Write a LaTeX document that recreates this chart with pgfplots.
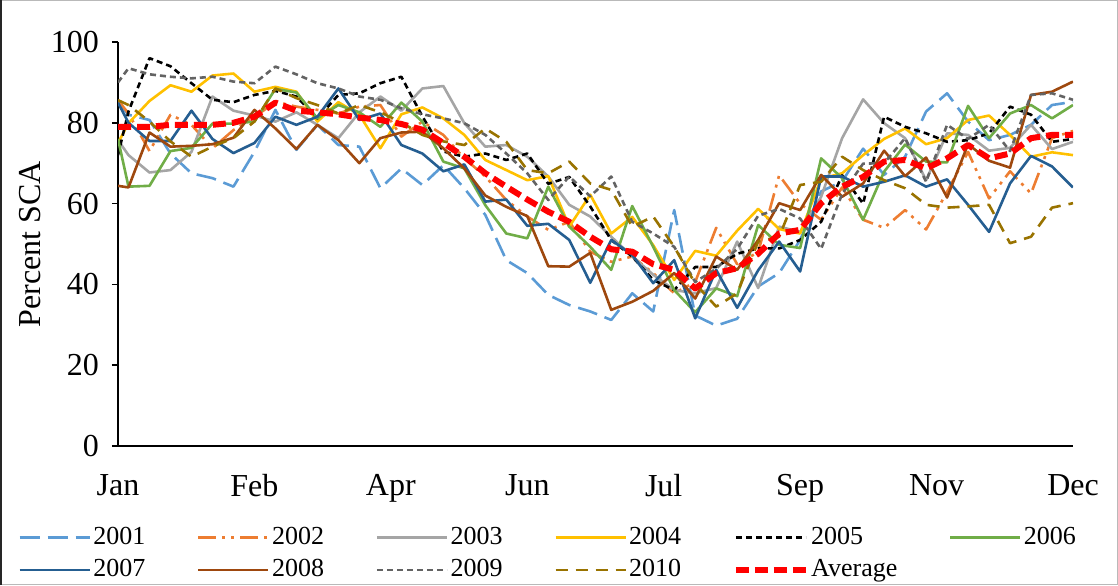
\documentclass[border=0pt]{standalone}
\usepackage{fontspec}
\setmainfont{Liberation Serif}
\usepackage{pgfplots}
\usepackage{pgfplotstable}
\pgfplotsset{compat=1.18}

\definecolor{c01}{HTML}{5B9BD5}
\definecolor{c02}{HTML}{ED7D31}
\definecolor{c03}{HTML}{A5A5A5}
\definecolor{c04}{HTML}{FFC000}
\definecolor{c06}{HTML}{70AD47}
\definecolor{c07}{HTML}{255E91}
\definecolor{c08}{HTML}{9E480E}
\definecolor{c09}{HTML}{636363}
\definecolor{c10}{HTML}{997300}

% Snow-covered area (%) by day of year, 8-day steps
\pgfplotstableread{
day  y01  y02  y03  y04  y05  y06  y07  y08  y09  y10  avg
0    85.2 85.6 75.7 75.0 72.0 76.0 85.0 64.4 90.0 85.6 79.0
4    82.0 82.3 72.0 79.9 82.8 64.2 80.0 64.0 93.5 84.4 79.0
12   80.7 73.0 67.7 85.4 96.0 64.4 75.5 77.6 92.0 80.3 79.0
20   72.4 82.0 68.3 89.3 94.0 73.0 75.5 74.1 91.4 75.4 79.5
28   67.5 79.5 72.8 87.7 89.8 73.8 83.0 74.3 91.0 71.6 79.5
36   66.3 73.7 86.5 91.7 85.7 79.8 76.0 74.7 91.4 74.1 79.5
44   64.2 78.2 83.0 92.2 85.1 79.8 72.5 76.3 90.2 76.2 80.0
52   72.8 81.4 81.8 87.7 86.9 80.3 75.0 83.2 89.8 80.3 81.5
60   83.2 85.2 80.3 88.9 87.9 88.4 81.5 78.6 93.9 88.5 85.0
68   73.3 84.0 82.6 87.7 86.5 87.5 79.5 73.5 92.0 86.1 83.0
76   79.5 83.2 79.5 80.3 81.1 81.1 81.5 79.5 89.8 84.4 82.6
84   74.5 82.3 76.2 85.1 86.9 84.4 88.5 75.7 88.5 82.3 82.1
92   74.1 84.0 82.6 82.0 87.3 82.6 80.7 70.0 86.5 84.4 81.3
100  63.8 84.4 86.5 73.7 89.8 79.0 82.3 76.2 85.7 82.6 80.7
108  68.7 76.6 83.0 82.1 91.4 85.0 74.5 77.6 83.6 80.1 79.7
116  64.6 80.3 88.5 83.8 81.6 80.3 72.4 77.8 82.1 77.0 78.3
124  69.5 77.0 89.1 81.1 72.9 70.4 68.0 73.7 81.1 75.4 75.0
132  63.8 71.2 79.9 77.0 71.6 68.7 69.7 68.7 79.9 74.5 71.6
140  57.2 66.7 74.1 70.8 72.4 59.6 60.5 62.0 77.0 78.6 67.5
148  46.0 60.9 74.5 68.3 70.8 52.6 61.0 59.2 72.4 75.3 64.2
156  42.8 56.8 71.6 65.8 72.4 51.4 54.5 56.9 67.5 68.3 61.0
164  37.4 53.5 66.7 66.8 64.9 64.2 55.0 44.5 60.9 67.5 58.0
172  34.9 55.5 59.7 54.3 66.6 54.3 51.0 44.4 66.7 70.4 55.5
180  33.3 48.1 56.8 62.2 59.3 49.3 40.4 47.8 61.8 65.0 51.8
188  31.2 45.6 51.8 52.6 51.0 43.6 51.0 33.7 66.7 63.4 48.7
196  37.8 46.9 46.9 56.7 46.9 59.4 47.3 35.7 55.5 54.3 48.1
204  33.3 42.8 42.4 49.7 41.1 49.3 40.3 38.4 52.6 56.8 45.0
212  58.4 37.8 38.6 41.1 38.6 38.6 46.0 42.8 49.3 49.3 43.6
220  32.3 40.6 37.8 48.3 44.3 33.1 31.6 36.5 40.6 40.2 39.0
228  29.8 54.0 39.1 47.1 44.3 39.0 43.6 46.9 43.9 34.5 42.8
236  31.5 45.0 50.6 53.3 47.6 37.1 34.2 43.6 48.8 37.8 44.0
244  39.5 48.0 39.1 58.7 48.9 54.7 43.5 51.0 57.0 50.6 47.6
252  42.8 67.0 54.3 53.7 48.9 49.8 50.6 60.1 58.7 51.8 52.6
260  51.0 60.0 53.0 52.6 51.0 49.0 43.2 58.4 56.3 64.6 53.5
268  63.0 56.0 61.7 66.2 55.5 71.2 66.7 67.1 48.8 65.4 60.1
276  65.5 64.0 76.2 67.5 67.0 66.3 66.7 61.7 62.4 71.6 64.2
284  73.6 56.0 85.8 72.0 60.0 56.0 64.2 65.0 69.9 68.3 66.6
292  67.1 54.0 79.9 76.0 81.5 67.9 65.4 73.1 70.0 65.8 70.4
300  71.6 58.4 76.2 78.6 79.0 74.6 67.0 66.8 76.2 63.8 70.8
308  82.8 53.6 65.8 74.7 77.4 70.4 64.2 71.4 65.4 59.7 68.7
316  87.3 62.9 77.4 76.2 75.3 70.2 66.0 61.5 79.5 59.0 71.2
324  80.3 72.8 77.0 80.7 75.7 84.2 59.7 74.7 76.0 59.3 74.5
332  75.7 61.3 73.1 81.8 77.4 76.2 53.0 70.6 79.5 59.7 71.2
340  77.0 68.0 73.8 77.0 84.0 82.3 65.0 68.9 73.0 50.2 72.4
348  79.5 62.5 79.5 71.6 82.0 84.4 71.8 86.9 86.9 51.8 76.2
356  84.4 76.2 73.5 72.7 75.3 81.1 69.2 87.7 87.3 59.0 77.0
364  85.2 78.0 75.3 72.0 76.0 84.4 64.0 90.2 85.7 60.1 77.0
}\sca

\begin{document}
\begin{tikzpicture}[x=1pt,y=1pt]
\path[use as bounding box] (0,0) rectangle (559,292.5);
% chart area border
\draw[gray!55, line width=0.6pt] (0.3,0.3) rectangle (558.7,292.2);
\draw[black!85, line width=1pt] (0.5,0) -- (0.5,292.5);
\begin{axis}[
  at={(59pt,69.5pt)}, anchor=south west,
  scale only axis, width=477.5pt, height=202pt,
  xmin=0, xmax=364, ymin=0, ymax=100,
  axis x line*=bottom, axis y line*=left,
  axis line style={line width=0.8pt, black},
  xtick={0,52,104,156,208,260,312,364},
  xticklabels={Jan,Feb,Apr,Jun,Jul,Sep,Nov,Dec},
  xtick style={draw=none},
  ytick={0,20,40,60,80,100},
  major tick length=3pt, tick align=outside,
  ytick style={line width=0.8pt, black},
  /pgf/number format/assume math mode=true,
  tick label style={font=\fontsize{16}{19}\selectfont},
  xticklabel style={yshift=-7.5pt},
  yticklabel style={xshift=-3pt},
  ylabel={Percent SCA},
  ylabel style={font=\fontsize{16}{19}\selectfont, at={(axis description cs:-0.0921,0.5)}, anchor=center},
  legend columns=6,
  legend cell align=left,
  legend image code/.code={\draw[#1] (0pt,0pt) -- (35pt,0pt);},
  legend style={draw=none, fill=none, font=\fontsize{13}{15}\selectfont,
    at={(axis description cs:-0.1047,-0.195)}, anchor=north west,
    inner sep=0pt, row sep=3.5pt, nodes={inner sep=1.2pt},
    /tikz/every even column/.append style={column sep=24.6pt}},
  every axis plot/.append style={line width=1.3pt, line join=round},
]
\addplot[c01, dash pattern=on 10pt off 4pt] table[x=day, y=y01] {\sca};
\addlegendentry{2001}
\addplot[c02, dash pattern=on 9pt off 3pt on 1.5pt off 3pt on 1.5pt off 3pt] table[x=day, y=y02] {\sca};
\addlegendentry{2002}
\addplot[c03] table[x=day, y=y03] {\sca};
\addlegendentry{2003}
\addplot[c04] table[x=day, y=y04] {\sca};
\addlegendentry{2004}
\addplot[black, dash pattern=on 3pt off 2pt] table[x=day, y=y05] {\sca};
\addlegendentry{2005}
\addplot[c06] table[x=day, y=y06] {\sca};
\addlegendentry{2006}
\addplot[c07] table[x=day, y=y07] {\sca};
\addlegendentry{2007}
\addplot[c08] table[x=day, y=y08] {\sca};
\addlegendentry{2008}
\addplot[c09, dash pattern=on 3pt off 2pt] table[x=day, y=y09] {\sca};
\addlegendentry{2009}
\addplot[c10, dash pattern=on 6pt off 4pt] table[x=day, y=y10] {\sca};
\addlegendentry{2010}
\addplot[red, line width=3pt, dash pattern=on 6.5pt off 3pt] table[x=day, y=avg] {\sca};
\addlegendentry{Average}
\end{axis}
\end{tikzpicture}
\end{document}
